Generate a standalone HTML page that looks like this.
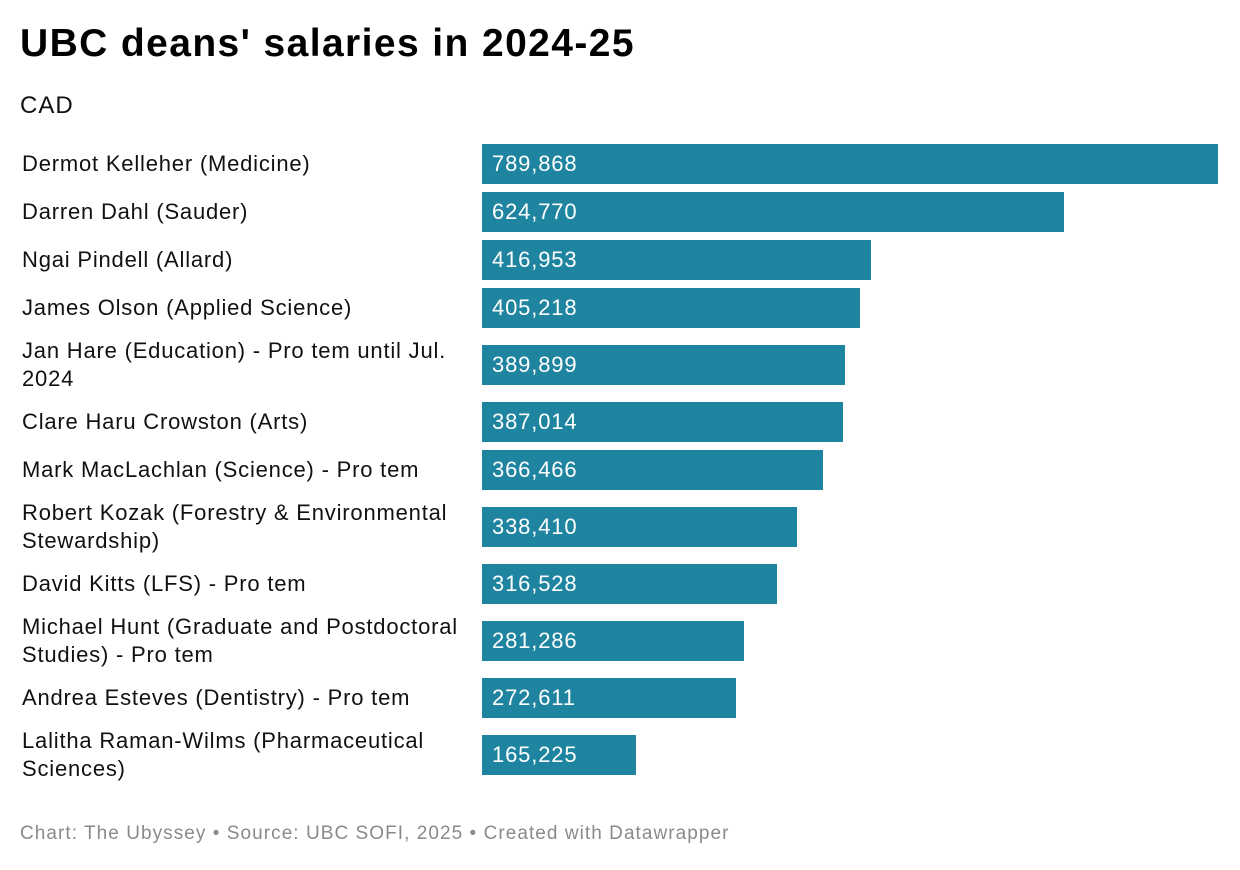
<!DOCTYPE html>
<html><head><meta charset="utf-8"><style>
body{margin:0;width:1240px;height:870px;background:#fff;font-family:"Liberation Sans",Arial,sans-serif;overflow:hidden;position:relative}
#title{position:absolute;left:20px;top:22px;font-size:39px;font-weight:bold;color:#000;margin:0;letter-spacing:1.4px}
#sub{position:absolute;left:20px;top:92px;font-size:24px;color:#111;letter-spacing:1px}
#foot{position:absolute;left:20px;top:823px;font-size:19px;color:#8a8a8a;letter-spacing:1.05px}
.lab{position:absolute;left:22px;width:446px;font-size:22px;line-height:28px;color:#111;transform:translateY(-50%);letter-spacing:0.8px}
.bar{position:absolute;left:482px;height:40px;background:#1f84a0}
.val{position:absolute;left:10px;top:0;line-height:40px;font-size:22px;color:#fff;letter-spacing:0.85px}
</style></head><body>
<h1 id="title">UBC deans' salaries in 2024-25</h1>
<div id="sub">CAD</div>
<div id="chart"></div>
<div id="foot">Chart: The Ubyssey • Source: UBC SOFI, 2025 • Created with Datawrapper</div>
<script>
const names=["Dermot Kelleher (Medicine)","Darren Dahl (Sauder)","Ngai Pindell (Allard)","James Olson (Applied Science)","Jan Hare (Education) - Pro tem until Jul. 2024","Clare Haru Crowston (Arts)","Mark MacLachlan (Science) - Pro tem","Robert Kozak (Forestry & Environmental Stewardship)","David Kitts (LFS) - Pro tem","Michael Hunt (Graduate and Postdoctoral Studies) - Pro tem","Andrea Esteves (Dentistry) - Pro tem","Lalitha Raman-Wilms (Pharmaceutical Sciences)"];
const values=[789868,624770,416953,405218,389899,387014,366466,338410,316528,281286,272611,165225];
const lineCounts=[1,1,1,1,2,1,1,2,1,2,1,2];
const maxW=736, x=v=>v/Math.max(...values)*maxW;
const chart=document.getElementById('chart');
let prevH=null, c=164;
values.forEach((v,i)=>{
  const h=lineCounts[i]===2?66:48;
  if(prevH!==null) c+=prevH/2+h/2;
  prevH=h;
  const lab=document.createElement('div');
  lab.className='lab';lab.style.top=c+'px';lab.textContent=names[i];
  
  
  chart.appendChild(lab);
  const b=document.createElement('div');
  b.className='bar';b.style.top=(c-20)+'px';b.style.width=x(v)+'px';
  
  
  const t=document.createElement('span');t.className='val';t.textContent=v.toLocaleString('en-US');
  
  
  b.appendChild(t);chart.appendChild(b);
});
</script>
</body></html>
